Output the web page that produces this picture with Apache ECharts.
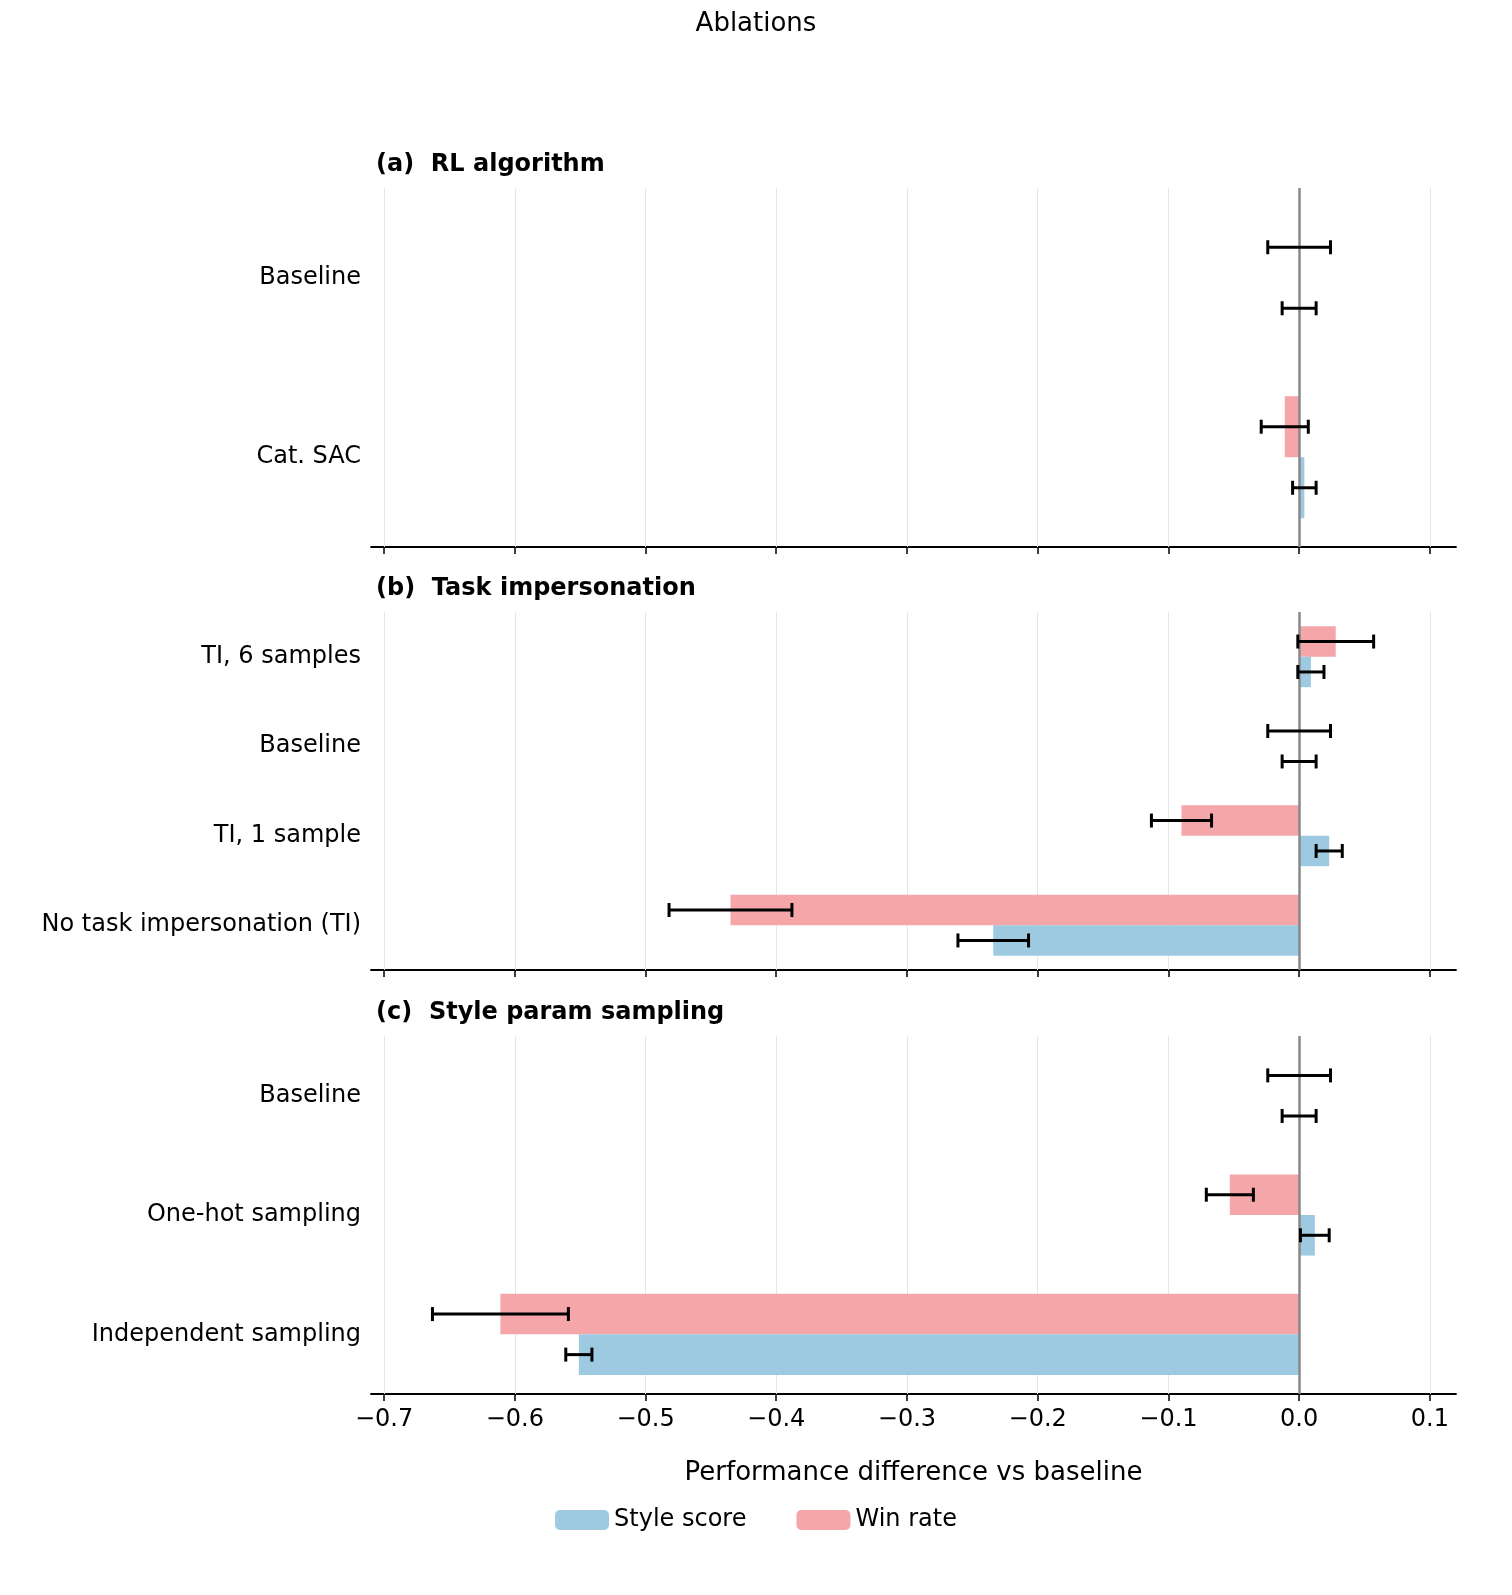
<!DOCTYPE html>
<html><head><meta charset="utf-8">
<script src="https://cdn.jsdelivr.net/npm/echarts@6/dist/echarts.min.js"></script>
<style>html,body{margin:0;background:#fff}#c{width:1512px;height:1595px}</style>
</head><body><div id="c"></div>
<script>
// categories bottom -> top
var catsA = ["Cat. SAC", "Baseline"];
var catsB = ["No task impersonation (TI)", "TI, 1 sample", "Baseline", "TI, 6 samples"];
var catsC = ["Independent sampling", "One-hot sampling", "Baseline"];
var styleA = [0.004, 0], styleErrA = [0.009, 0.013];
var winA = [-0.011, 0], winErrA = [0.018, 0.024];
var styleB = [-0.234, 0.023, 0, 0.009], styleErrB = [0.027, 0.010, 0.013, 0.010];
var winB = [-0.435, -0.090, 0, 0.028], winErrB = [0.047, 0.023, 0.024, 0.029];
var styleC = [-0.551, 0.012, 0], styleErrC = [0.010, 0.011, 0.013];
var winC = [-0.611, -0.053, 0], winErrC = [0.052, 0.018, 0.024];
var ticks = [-0.7, -0.6, -0.5, -0.4, -0.3, -0.2, -0.1, 0.0, 0.1];
var titles = ["(a)  RL algorithm", "(b)  Task impersonation", "(c)  Style param sampling"];

var panels = [
  {cats: catsA, s: styleA, se: styleErrA, w: winA, we: winErrA, top: 188, h: 359},
  {cats: catsB, s: styleB, se: styleErrB, w: winB, we: winErrB, top: 612, h: 358},
  {cats: catsC, s: styleC, se: styleErrC, w: winC, we: winErrC, top: 1036, h: 358}
];
var GAP = 0.32;
var font = "DejaVu Sans";
var grid = [], xAxis = [], yAxis = [], series = [], title = [];
title.push({text: "Ablations", left: "center", top: 6, textStyle: {fontFamily: font, fontSize: 26, fontWeight: "normal", color: "#000"}});

function errSeries(i, vals, errs, dir) {
  return {
    type: "custom", xAxisIndex: i, yAxisIndex: i, silent: true, z: 10,
    data: vals.map(function (v, k) { return [k, v, errs[k]]; }),
    renderItem: function (params, api) {
      var k = api.value(0), v = api.value(1), e = api.value(2);
      var band = api.size([0, 1])[1];
      var bw = band * (1 - GAP) / 2;
      var y = api.coord([v, k])[1] + dir * bw / 2;
      var x1 = api.coord([v - e, k])[0], x2 = api.coord([v + e, k])[0];
      var st = {stroke: "#000", lineWidth: 3};
      return {type: "group", children: [
        {type: "line", shape: {x1: x1, y1: y, x2: x2, y2: y}, style: st},
        {type: "line", shape: {x1: x1, y1: y - 7, x2: x1, y2: y + 7}, style: st},
        {type: "line", shape: {x1: x2, y1: y - 7, x2: x2, y2: y + 7}, style: st}
      ]};
    }
  };
}

panels.forEach(function (p, i) {
  grid.push({left: 371, right: 56, top: p.top, height: p.h});
  title.push({text: titles[i], left: 371, top: p.top - 40, textStyle: {fontFamily: font, fontSize: 24, fontWeight: "bold", color: "#000"}});
  xAxis.push({
    type: "value", gridIndex: i, min: -0.71, max: 0.12,
    name: i === 2 ? "Performance difference vs baseline" : "", nameLocation: "middle", nameGap: 66,
    nameTextStyle: {fontFamily: font, fontSize: 26, color: "#000"},
    axisLine: {show: true, onZero: false, lineStyle: {color: "#000", width: 1.8}},
    axisTick: {show: true, length: 7, customValues: ticks, lineStyle: {color: "#000", width: 1.5}},
    axisLabel: {show: i === 2, customValues: ticks, margin: 14, fontFamily: font, fontSize: 24, color: "#000",
      formatter: function (v) { return v.toFixed(1).replace("-", "\u2212"); }},
    splitLine: {show: false}
  });
  yAxis.push({
    type: "category", gridIndex: i, data: p.cats,
    axisLine: {show: false}, axisTick: {show: false},
    axisLabel: {margin: 10, fontFamily: font, fontSize: 24, color: "#000"}
  });
  series.push({
    name: "Win rate", type: "bar", xAxisIndex: i, yAxisIndex: i, data: p.w,
    barGap: "0%", barCategoryGap: (GAP * 100) + "%",
    itemStyle: {color: "#f4a6a8"},
    markLine: {silent: true, symbol: "none", label: {show: false}, z: 1,
      lineStyle: {color: "#e6e6e6", width: 1, type: "solid"},
      data: ticks.filter(function (t) { return t !== 0; }).map(function (t) { return {xAxis: t}; })}
  });
  series.push({
    name: "Style score", type: "bar", xAxisIndex: i, yAxisIndex: i, data: p.s,
    barGap: "0%", barCategoryGap: (GAP * 100) + "%",
    itemStyle: {color: "#9ecae1"},
    markLine: {silent: true, symbol: "none", label: {show: false},
      lineStyle: {color: "#888", width: 2.5, type: "solid"}, data: [{xAxis: 0}]}
  });
  series.push(errSeries(i, p.s, p.se, 1));
  series.push(errSeries(i, p.w, p.we, -1));
});

var chart = echarts.init(document.getElementById("c"));
chart.setOption({
  animation: false,
  title: title,
  legend: {data: ["Style score", "Win rate"], bottom: 58, left: "center", itemWidth: 54, itemHeight: 20, itemGap: 50,
    textStyle: {fontFamily: font, fontSize: 24, color: "#000"}},
  grid: grid, xAxis: xAxis, yAxis: yAxis, series: series
});
</script></body></html>
